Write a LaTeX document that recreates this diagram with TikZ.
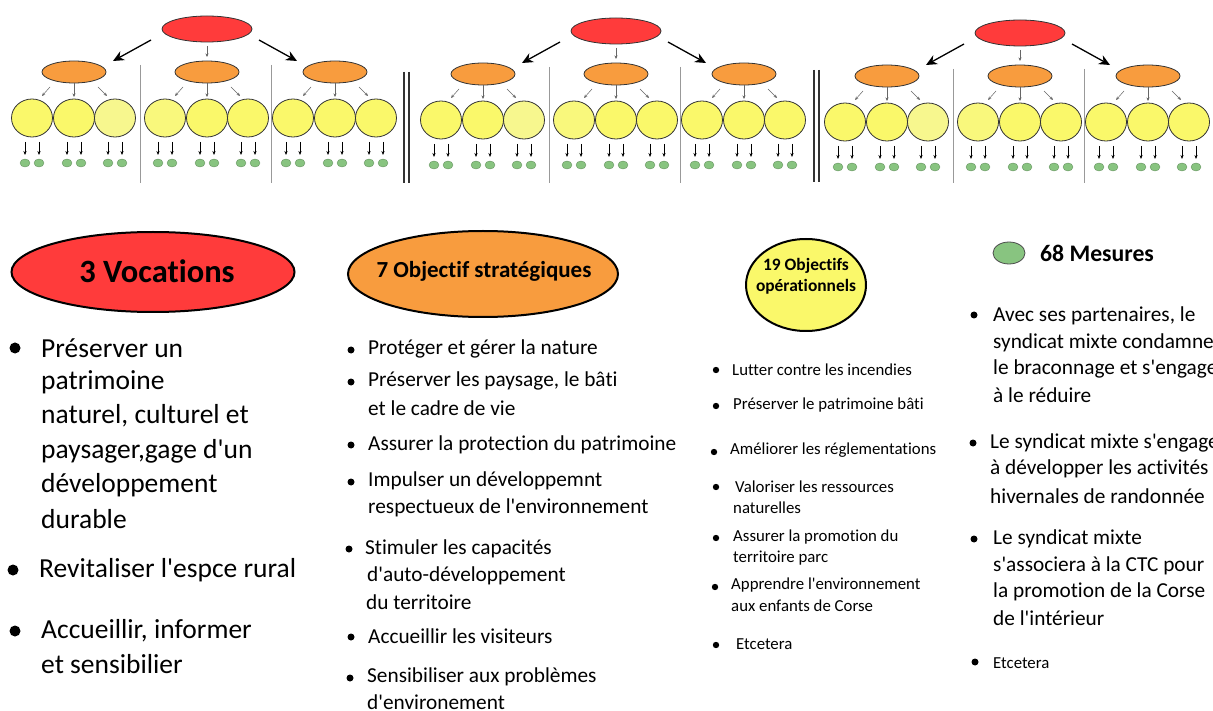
\documentclass[tikz,border=0pt]{standalone}
\usepackage{fontspec}
\setmainfont{Carlito}[Ligatures={TeXOff,NoCommon}]
\usetikzlibrary{arrows.meta,shapes.geometric,calc}
\definecolor{cred}{HTML}{FF3B3B}
\definecolor{corange}{HTML}{F89C3E}
\definecolor{cyellow}{HTML}{FAF86A}
\definecolor{cyellowl}{HTML}{F7F78E}
\definecolor{cyellowm}{HTML}{F9F87C}
\definecolor{cgreen}{HTML}{88C480}
\definecolor{cline}{HTML}{333333}
\definecolor{csep}{HTML}{999999}
\begin{document}
\begin{tikzpicture}[x=1pt,y=-1pt,
  redel/.style={ellipse, draw=cline, line width=0.8pt, fill=cred, inner sep=0pt, minimum width=90pt, minimum height=26pt},
  orel/.style={ellipse, draw=cline, line width=0.8pt, fill=corange, inner sep=0pt, minimum width=64pt, minimum height=22pt},
  yel/.style={ellipse, draw=cline, line width=0.8pt, inner sep=0pt, minimum width=41pt, minimum height=38pt},
  grel/.style={ellipse, draw=cgreen!75!black, line width=0.4pt, fill=cgreen, inner sep=0pt, minimum width=10pt, minimum height=8pt},
  bigarr/.style={line width=1.3pt, -{Stealth[length=11pt,width=10pt]}},
  smallarr/.style={draw=black!60, line width=0.5pt, -{Stealth[length=3.5pt,width=3pt]}},
  darr/.style={draw=black, line width=0.6pt, -{Stealth[length=4pt,width=3.2pt]}},
  sepline/.style={draw=csep, line width=0.9pt},
  dbl/.style={draw=black!80, line width=1.3pt},
  legel/.style={ellipse, draw=black, line width=2pt, inner sep=0pt},
  bigtxt/.style={anchor=west, inner sep=0pt, font=\fontsize{27.5}{29}\selectfont},
  midtxt/.style={anchor=west, inner sep=0pt, font=\fontsize{21.3}{23}\selectfont},
  smtxt/.style={anchor=west, inner sep=0pt, font=\fontsize{16.8}{18}\selectfont},
  metxt/.style={anchor=west, inner sep=0pt, font=\fontsize{21.3}{23}\selectfont},
]
\useasboundingbox (0,0) rectangle (1213,711);
\fill[white] (0,0) rectangle (1213,711);

% ---------- three small trees ----------
\foreach \t/\dx/\dy in {1/0/0, 2/409/2, 3/813/4} {
  \node[redel] (r\t) at (207+\dx, 29+\dy) {};
  \foreach \o/\ox/\ya/\yb/\yc in {1/74/cyellow/cyellow/cyellowl, 2/207/cyellowm/cyellow/cyellow, 3/335/cyellow/cyellow/cyellow} {
    \node[orel] (o\t\o) at (\ox+\dx, 72+\dy) {};
    \foreach \y/\yx/\yf in {1/-42/\ya, 2/0/\yb, 3/41/\yc} {
      \node[yel, fill=\yf] (y\t\o\y) at (\ox+\yx+\dx, 118+\dy) {};
      \node[grel] (g\t\o\y-a) at ($(y\t\o\y)+(-7,45)$) {};
      \node[grel] (g\t\o\y-b) at ($(y\t\o\y)+(7,45)$) {};
      \draw[darr] ([shift={(-7,24)}]y\t\o\y.center) -- ([shift={(0,-8)}]g\t\o\y-a.center);
      \draw[darr] ([shift={(7,24)}]y\t\o\y.center) -- ([shift={(0,-8)}]g\t\o\y-b.center);
    }
    \draw[smallarr] ([shift={(-24,15)}]o\t\o.center) -- ([shift={(10,-22)}]y\t\o1.center);
    \draw[smallarr] ([shift={(0,11)}]o\t\o.center) -- ([shift={(0,-21)}]y\t\o2.center);
    \draw[smallarr] ([shift={(24,15)}]o\t\o.center) -- ([shift={(-8,-22)}]y\t\o3.center);
  }
  \draw[bigarr] ([shift={(-56,11)}]r\t.center) -- ([shift={(39,-11)}]o\t1.center);
  \draw[smallarr] ([shift={(0,17)}]r\t.center) -- ([shift={(0,-15)}]o\t2.center);
  \draw[bigarr] ([shift={(52,11)}]r\t.center) -- ([shift={(-38,-11)}]o\t3.center);
  \draw[sepline] (140+\dx, 65+\dy) -- (140+\dx, 183);
  \draw[sepline] (271+\dx, 65+\dy) -- (271+\dx, 183);
}
\draw[dbl] (404,72) -- (404,183);
\draw[dbl] (409,72) -- (409,183);
\draw[dbl] (814,70) -- (814,182);
\draw[dbl] (819,70) -- (819,182);

% ---------- legend shapes ----------
\node[legel, fill=cred, minimum width=283pt, minimum height=80pt] (voc) at (153,272) {};
\node[font=\fontsize{32.5}{34}\selectfont\bfseries, inner sep=0pt] (voclbl) at (157,271) {3 Vocations};
\node[legel, fill=corange, minimum width=270pt, minimum height=86pt] (strat) at (483,274) {};
\node[font=\fontsize{23}{25}\selectfont\bfseries, inner sep=0pt] (stratlbl) at (484,271) {7 Objectif stratégiques};
\node[legel, fill=cyellow, minimum width=120pt, minimum height=92pt] (oper) at (806,285) {};
\node[align=center, font=\fontsize{17.4}{21}\selectfont\bfseries, inner sep=0pt] (operlbl) at (806,276) {19 Objectifs\\opérationnels};
\node[ellipse, draw=black!70, line width=0.8pt, fill=cgreen, inner sep=0pt, minimum width=32pt, minimum height=22pt] (mes) at (1009,253) {};
\node[anchor=west, inner sep=0pt, font=\fontsize{23.7}{25}\selectfont\bfseries] (mestxt) at (1040,253) {68 Mesures};

% ---------- column 1 ----------
\foreach \yy/\xx/\txt [count=\i] in {348/41/{Préserver un}, 382/41/{patrimoine}, 416/41/{naturel, culturel et},
   451/41/{paysager,gage d'un}, 485/41/{développement}, 519/41/{durable}, 570/39/{Revitaliser l'espce rural},
   631/41/{Accueillir, informer}, 664/41/{et sensibilier}}
  \node[bigtxt] (va\i) at (\xx,\yy) {\txt};
\foreach \xx/\yy in {15/348, 13/570, 15/631} \fill (\xx,\yy) circle[radius=5.5];

% ---------- column 2 ----------
\foreach \yy/\xx/\txt [count=\i] in {349/368/{Protéger et gérer la nature}, 381/368/{Préserver les paysage, le bâti},
   408/368/{et le cadre de vie}, 445/368/{Assurer la protection du patrimoine}, 481/368/{Impulser un développemnt},
   508/368/{respectueux de l'environnement}, 549/365/{Stimuler les capacités}, 576/367/{d'auto-développement},
   602/366/{du territoire}, 636/368/{Accueillir les visiteurs}, 677/367/{Sensibiliser aux problèmes},
   702/367/{d'environement}}
  \node[midtxt] (sb\i) at (\xx,\yy) {\txt};
\foreach \xx/\yy in {351/350, 351/382, 351/445, 351/482, 349/549, 351/637, 350/678} \fill (\xx,\yy) circle[radius=3.5];

% ---------- column 3 ----------
\foreach \yy/\xx/\txt [count=\i] in {370/732/{Lutter contre les incendies}, 405/733/{Préserver le patrimoine bâti},
   450/730/{Améliorer les réglementations}, 487/735/{Valoriser les ressources}, 508/733/{naturelles},
   537/733/{Assurer la promotion du}, 558/733/{territoire parc}, 585/731/{Apprendre l'environnement},
   606/731/{aux enfants de Corse}, 644/736/{Etcetera}}
  \node[smtxt] (oc\i) at (\xx,\yy) {\txt};
\foreach \xx/\yy in {716/370, 716/406, 714/452, 716/487, 716/538, 715/587, 716/645} \fill (\xx,\yy) circle[radius=3.2];

% ---------- column 4 ----------
\foreach \yy/\xx/\txt [count=\i] in {316/993/{Avec ses partenaires, le}, 343/993/{syndicat mixte condamne},
   369/993/{le braconnage et s'engage}, 395/993/{à le réduire}, 443/990/{Le syndicat mixte s'engage},
   469/990/{à développer les activités}, 496/990/{hivernales de randonnée}, 539/993/{Le syndicat mixte},
   566/993/{s'associera à la CTC pour}, 592/993/{la promotion de la Corse}, 618/993/{de l'intérieur}}
  \node[metxt] (md\i) at (\xx,\yy) {\txt};
\node[smtxt] (md12) at (993,663) {Etcetera};
\foreach \xx/\yy in {974/315, 973/443, 974/539, 975/662} \fill (\xx,\yy) circle[radius=3.5];
\end{tikzpicture}
\end{document}
